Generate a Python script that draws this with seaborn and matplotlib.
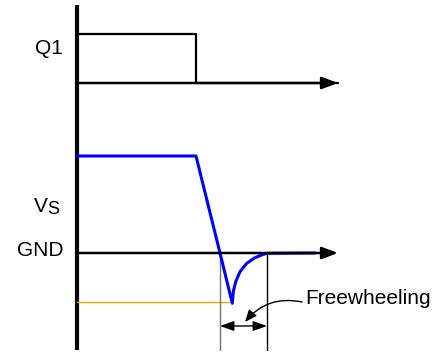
import numpy as np
import pandas as pd
import matplotlib
matplotlib.use("Agg")
import matplotlib.pyplot as plt
import seaborn as sns

# waveform data (drawing units, y grows downward)
q1_x = [77, 196, 196, 338]
q1_y = [34, 34, 83, 83]

vs_x = [77, 196, 220, 232.3, 233.3, 235.7, 240, 246.7, 255, 263.3, 267.7, 315]
vs_y = [156, 156, 253, 303.3, 291.7, 281.7, 271.7, 263.3, 257.7, 254.3, 253.3, 253]

q1_axis_y = 83
gnd_y = 253
neg_y = 302
t_start, t_end = 220, 267
axis_x0, axis_x1 = 77, 338

labels = ["Q1", "GND"]
label_y = [48, 251]

sns.set_theme(style="white")
plt.rcParams['font.family'] = ['Liberation Sans', 'DejaVu Sans']

fig = plt.figure(figsize=(4.38, 3.54), dpi=100)
ax = fig.add_axes([0, 0, 1, 1])
ax.set_xlim(0, 438)
ax.set_ylim(354, 0)
ax.axis("off")

# vertical main axis
ax.plot([77, 77], [5, 350], color="black", lw=3, solid_capstyle="butt")

# horizontal axes with arrows
for yy in [q1_axis_y, gnd_y]:
    ax.annotate("", xy=(axis_x1, yy), xytext=(axis_x0, yy),
                arrowprops=dict(arrowstyle="-|>,head_length=0.8,head_width=0.3",
                                color="black", lw=1.8, shrinkA=0, shrinkB=0))

# Q1 waveform
q1_df = pd.DataFrame({"x": q1_x, "y": q1_y})
sns.lineplot(data=q1_df, x="x", y="y", sort=False, estimator=None,
             color="black", lw=1.6, ax=ax)

# negative level reference line (orange)
ax.plot([axis_x0, vs_x[3]], [neg_y, neg_y], color="#FFA500", lw=1)

# freewheel boundaries
ax.plot([t_start, t_start], [gnd_y, 350], color="#707070", lw=1)
ax.plot([t_end, t_end], [gnd_y, 350], color="black", lw=1)

# Vs waveform
vs_df = pd.DataFrame({"x": vs_x, "y": vs_y})
sns.lineplot(data=vs_df, x="x", y="y", sort=False, estimator=None,
             color="#0000FF", lw=2.2, ax=ax)

# double arrow for freewheeling interval
ax.annotate("", xy=(t_start, 326), xytext=(t_end, 326),
            arrowprops=dict(arrowstyle="<|-|>,head_length=0.7,head_width=0.25",
                            color="black", lw=1, shrinkA=0, shrinkB=0))

# curved pointer from label
ax.annotate("", xy=(245, 322), xytext=(302, 302),
            arrowprops=dict(arrowstyle="-|>,head_length=0.6,head_width=0.25",
                            color="black", lw=1, shrinkA=0, shrinkB=0,
                            connectionstyle="arc3,rad=0.3"))
ax.text(305, 298, "Freewheeling", fontsize=15, ha="left", va="center", color="black")

for lab, ly in zip(labels, label_y):
    ax.text(63, ly, lab, fontsize=15, ha="right", va="center", color="black")

# Vs label: V with a smaller S
ax.text(48, 207, "V", fontsize=15, ha="right", va="center", color="black")
ax.text(47, 209, "S", fontsize=13, ha="left", va="center", color="black")

ax.set_xlabel("")
ax.set_ylabel("")
fig.savefig("out.png", dpi=100)
